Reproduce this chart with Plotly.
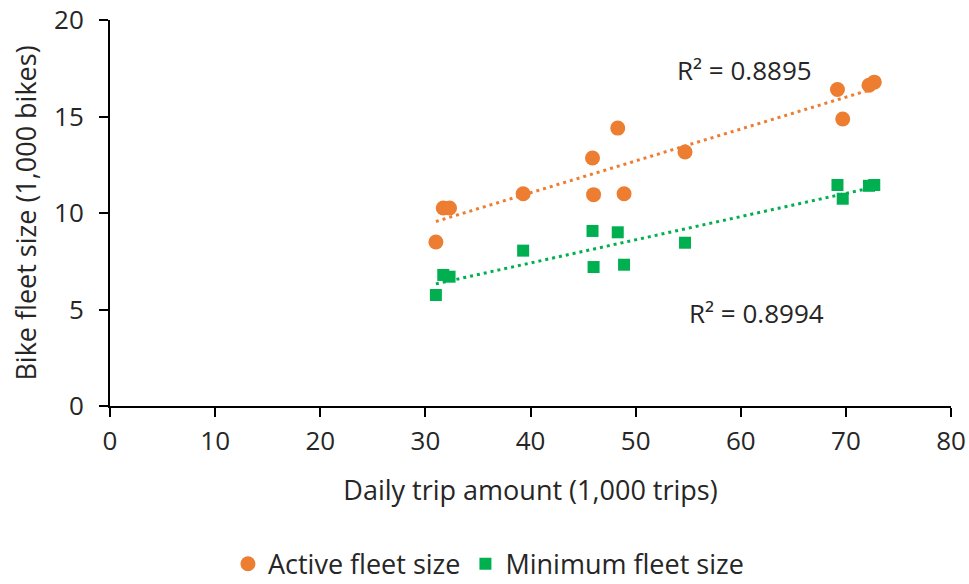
import numpy as np
import plotly.graph_objects as go

trips = [31.0, 31.7, 32.3, 39.3, 45.9, 46.0, 48.3, 48.9, 54.7, 69.2, 69.7, 72.2, 72.7]
active = [8.5, 10.26, 10.26, 11.0, 12.85, 10.95, 14.4, 11.0, 13.16, 16.4, 14.87, 16.62, 16.78]
minimum = [5.75, 6.79, 6.70, 8.05, 9.07, 7.20, 9.0, 7.32, 8.46, 11.45, 10.74, 11.41, 11.45]
r2_labels = ["R² = 0.8895", "R² = 0.8994"]

ORANGE = "#ED7D31"
GREEN = "#00B050"
FONT = "Open Sans"
TXT = "#262626"
FS = 26

fig = go.Figure()

x = np.array(trips)
xs = np.array([x.min(), x.max()])
for ys, col in [(active, ORANGE), (minimum, GREEN)]:
    k, b = np.polyfit(x, np.array(ys), 1)
    fig.add_trace(go.Scatter(x=xs, y=k * xs + b, mode="lines",
                             line=dict(color=col, width=3, dash="3px,4px"),
                             showlegend=False, hoverinfo="skip"))

fig.add_trace(go.Scatter(x=trips, y=active, mode="markers", name="Active fleet size",
                         marker=dict(symbol="circle", size=15, color=ORANGE)))
fig.add_trace(go.Scatter(x=trips, y=minimum, mode="markers", name="Minimum fleet size",
                         marker=dict(symbol="square", size=12, color=GREEN)))

fig.add_annotation(x=60.4, y=17.4, text=r2_labels[0], showarrow=False,
                   font=dict(family=FONT, size=FS, color=TXT))
fig.add_annotation(x=61.5, y=4.82, text=r2_labels[1], showarrow=False,
                   font=dict(family=FONT, size=FS, color=TXT))

axis_common = dict(showgrid=False, zeroline=False, showline=True, linecolor="black",
                   linewidth=2, ticks="outside", ticklen=9, tickwidth=2,
                   tickcolor="black", automargin=False, ticklabeloverflow="allow",
                   tickfont=dict(family=FONT, size=FS, color=TXT),
                   title_font=dict(family=FONT, size=27, color=TXT))

fig.update_xaxes(range=[0, 80], dtick=10, tick0=0, ticklabelstandoff=2,
                 title_text="Daily trip amount (1,000 trips)", title_standoff=24,
                 **axis_common)
fig.update_yaxes(range=[0, 20], dtick=5, tick0=0, ticklabelstandoff=10,
                 title_text="Bike fleet size (1,000 bikes)", title_standoff=10,
                 **axis_common)

fig.update_layout(
    width=969, height=584,
    margin=dict(l=110, r=18, t=20, b=178, autoexpand=False),
    plot_bgcolor="white", paper_bgcolor="white",
    font=dict(family=FONT, size=FS, color=TXT),
    legend=dict(orientation="h", x=0.45, xanchor="center", y=-0.41, yanchor="middle",
                font=dict(family=FONT, size=27, color=TXT), itemwidth=30),
)

fig.write_html("out.html", config={"displayModeBar": False},
               post_script="document.body.style.margin='0px';document.body.style.overflow='hidden';")
